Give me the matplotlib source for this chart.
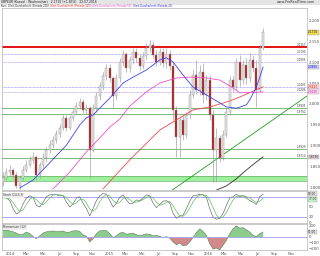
import numpy as np
import pandas as pd
import matplotlib
matplotlib.use('Agg')
import matplotlib.pyplot as plt
import matplotlib.transforms as mtransforms
from matplotlib.patches import Rectangle

# ---- bar data ----
opens = [1.814, 1.824, 1.838, 1.843, 1.831, 1.805, 1.824, 1.843, 1.855, 1.867,
         1.874, 1.831, 1.855, 1.871, 1.890, 1.902, 1.914, 1.929, 1.943, 1.967,
         1.943, 1.967, 1.981, 1.995, 2.005, 1.986, 1.990, 1.890, 1.990, 2.019,
         2.043, 2.067, 2.086, 2.062, 2.019, 2.062, 2.100, 2.119, 2.086, 2.105,
         2.124, 2.110, 2.090, 2.114, 2.133, 2.140, 2.117, 2.100, 2.124, 2.098,
         2.119, 2.090, 1.986, 1.921, 1.962, 1.926, 1.974, 2.021, 2.069, 2.033,
         2.076, 2.021, 2.057, 1.974, 1.890, 1.919, 1.871, 1.926, 1.981, 2.057,
         2.040, 2.100, 2.057, 2.093, 2.062, 2.105, 2.086, 2.033, 2.133]
closes = [1.824, 1.838, 1.843, 1.831, 1.805, 1.824, 1.843, 1.855, 1.867, 1.874,
          1.831, 1.855, 1.871, 1.890, 1.902, 1.914, 1.929, 1.943, 1.967, 1.943,
          1.967, 1.981, 1.995, 2.005, 1.986, 1.990, 1.890, 1.990, 2.019, 2.043,
          2.067, 2.086, 2.062, 2.019, 2.062, 2.100, 2.119, 2.086, 2.105, 2.124,
          2.110, 2.090, 2.114, 2.133, 2.140, 2.117, 2.100, 2.124, 2.098, 2.119,
          2.090, 1.986, 1.921, 1.962, 1.926, 1.974, 2.021, 2.069, 2.033, 2.076,
          2.021, 2.057, 1.974, 1.890, 1.919, 1.871, 1.926, 1.981, 2.057, 2.040,
          2.100, 2.057, 2.093, 2.062, 2.105, 2.086, 2.033, 2.133, 2.171]
highs = [1.838, 1.848, 1.855, 1.848, 1.838, 1.831, 1.852, 1.867, 1.876, 1.886,
         1.879, 1.862, 1.883, 1.898, 1.914, 1.924, 1.938, 1.952, 1.976, 1.974,
         1.974, 1.990, 2.005, 2.014, 2.012, 2.000, 1.995, 2.000, 2.029, 2.052,
         2.076, 2.095, 2.095, 2.067, 2.071, 2.110, 2.129, 2.124, 2.114, 2.133,
         2.133, 2.119, 2.124, 2.145, 2.152, 2.148, 2.129, 2.133, 2.133, 2.133,
         2.129, 2.100, 1.995, 1.971, 1.974, 1.981, 2.033, 2.081, 2.105, 2.093,
         2.098, 2.069, 2.069, 1.986, 1.943, 1.926, 1.938, 1.990, 2.067, 2.067,
         2.110, 2.117, 2.105, 2.110, 2.121, 2.117, 2.105, 2.143, 2.181]
lows = [1.805, 1.819, 1.829, 1.824, 1.800, 1.798, 1.819, 1.838, 1.850, 1.860,
        1.819, 1.824, 1.848, 1.862, 1.883, 1.895, 1.907, 1.921, 1.938, 1.936,
        1.938, 1.960, 1.974, 1.988, 1.979, 1.976, 1.824, 1.886, 1.981, 2.010,
        2.033, 2.057, 2.052, 1.990, 2.010, 2.052, 2.090, 2.076, 2.076, 2.095,
        2.100, 2.081, 2.083, 2.105, 2.124, 2.110, 2.090, 2.093, 2.088, 2.086,
        2.081, 1.962, 1.874, 1.874, 1.914, 1.919, 1.967, 2.014, 2.024, 2.021,
        2.002, 2.010, 1.962, 1.814, 1.814, 1.862, 1.867, 1.921, 1.974, 2.029,
        2.033, 2.043, 2.048, 2.048, 2.052, 2.076, 1.993, 2.029, 2.129]

# moving averages, sampled at bar indices
ma20_idx = [5, 9, 14, 19, 23, 25, 27, 29, 32, 36, 39, 43, 47, 49, 51, 54, 57, 62, 67, 70, 73, 74, 76, 78]
ma20_val = [1.800, 1.819, 1.860, 1.902, 1.950, 1.967, 1.974, 1.990, 2.014, 2.050, 2.064, 2.081,
            2.105, 2.110, 2.100, 2.069, 2.040, 2.017, 1.993, 1.990, 1.998, 2.010, 2.040, 2.088]
ma50_idx = [15, 20, 25, 29, 32, 35, 38, 43, 47, 52, 56, 61, 65, 68, 71, 74, 78]
ma50_val = [1.798, 1.838, 1.886, 1.919, 1.945, 1.964, 1.995, 2.029, 2.050, 2.062, 2.064,
            2.062, 2.057, 2.043, 2.027, 2.027, 2.029]
ma100_idx = [30, 38, 47, 52, 57, 62, 68, 72, 78]
ma100_val = [1.798, 1.867, 1.938, 1.962, 1.986, 1.993, 2.007, 2.020, 2.041]
ma200_idx = [64, 67, 70, 73, 76, 78]
ma200_val = [1.795, 1.805, 1.822, 1.843, 1.862, 1.874]

# support / resistance
red_level = 2.1357
blue_dotted = [2.1190, 2.0405]
purple_dotted = [2.0995, 2.0286]
green_levels = [1.9905, 1.9762, 1.8929, 1.8714]
green_band = (1.8167, 1.8286)
trend_dates = ['2015-08-22', '2016-12-31']
trend_vals = [1.795, 2.019]

# stochastic %K / %D
stoch_k = [80, 78, 70, 45, 28, 35, 60, 78, 85, 80, 55, 50, 65, 82, 88, 90, 88, 85, 86, 65,
           50, 60, 78, 82, 62, 45, 22, 45, 70, 85, 92, 90, 70, 50, 62, 80, 88, 72, 60, 62,
           72, 70, 78, 88, 85, 62, 48, 58, 68, 70, 62, 30, 15, 22, 25, 45, 68, 85, 86, 90,
           88, 80, 45, 18, 12, 15, 30, 55, 78, 82, 90, 82, 85, 78, 70, 65, 58, 82, 90]
stoch_d = [78, 79, 76, 64, 48, 36, 41, 58, 74, 81, 73, 62, 57, 66, 78, 87, 89, 88, 86, 79,
           67, 58, 63, 73, 74, 63, 43, 37, 46, 67, 82, 89, 84, 70, 61, 64, 77, 80, 73, 65,
           65, 68, 73, 79, 84, 78, 65, 56, 58, 65, 67, 54, 36, 22, 21, 31, 46, 66, 80, 87,
           88, 86, 71, 48, 25, 15, 19, 33, 54, 72, 83, 85, 86, 82, 78, 71, 64, 68, 77]

# momentum
momentum = [120, 125, 110, 95, 70, 40, 50, 90, 60, 10, -30, 20, 70, 95, 100, 110, 95, 100, 110, 80,
            90, 110, 115, 100, 40, 10, -90, -30, 60, 110, 120, 115, 60, -10, 20, 70, 85, 50, 60, 70,
            40, 20, 40, 55, 50, 20, 30, 10, -10, 5, -20, -90, -140, -110, -160, -150, -90, -10, 80, 150,
            100, 30, -120, -220, -200, -230, -150, -60, 60, 150, 200, 160, 170, 130, 90, 30, 5, 60, 91]

month_labels = ['2014', 'Mär', 'Mai', 'Jul', 'Sep', 'Nov',
                '2015', 'Mär', 'Mai', 'Jul', 'Sep', 'Nov',
                '2016', 'Mär', 'Mai', 'Jul', 'Sep', 'Nov']

dates = pd.date_range('2013-12-06', '2016-07-22', periods=len(closes))
W, H = 320, 256
LBL = '#505050'
GRID = '#b4b4b4'


def fy(y):
    return 1 - y / H


fig = plt.figure(figsize=(W / 100, H / 100), dpi=100)
fig.patch.set_facecolor('white')

# header strip
fig.patches.append(Rectangle((0, fy(4.5)), 1, 4.5 / H, transform=fig.transFigure,
                             facecolor='#e4e4e4', edgecolor='none'))
fig.text(1 / W, fy(2.3), 'GBPEUR (Kassa) · Wochenchart   2.1710 (+1.83%)   22.07.2016',
         fontsize=2.2, va='center', color='#202020')
fig.text(315 / W, fy(2.3), 'www.ProRealTime.com', fontsize=2.4, va='center', ha='right', color='#303030')
legend_parts = [(1, 'Kurs  Gleit. Durchschnitt (Periode 200)', '#202020'),
                (50, 'Gleit. Durchschnitt (Periode 100)', '#e02020'),
                (92, 'Gleit. Durchschnitt (Periode 50)', '#e040c0'),
                (133, 'Gleit. Durchschnitt (Periode 20)', '#2020e0')]
for px, txt, col in legend_parts:
    fig.text(px / W, fy(6.2), txt, fontsize=1.8, va='center', color=col)

ax = fig.add_axes([2 / W, fy(190), 305 / W, 182 / H])
ax_st = fig.add_axes([2 / W, fy(223), 305 / W, 32 / H], sharex=ax)
ax_mo = fig.add_axes([2 / W, fy(250), 305 / W, 26 / H], sharex=ax)

for a in (ax, ax_st, ax_mo):
    for s in a.spines.values():
        s.set_color(GRID)
        s.set_linewidth(0.5)
    a.yaxis.tick_right()
    a.tick_params(axis='y', labelsize=2.8, length=0, pad=1.5, colors=LBL)
    a.tick_params(axis='x', length=0)
    a.set_facecolor('white')

# ---- main price panel ----
ax.axhspan(green_band[0], green_band[1], color='#9ef09e', lw=0)
for v in green_band:
    ax.axhline(v, color='#68b068', lw=0.5)
for v in green_levels:
    ax.axhline(v, color='#68b068', lw=0.6)
for v in blue_dotted:
    ax.axhline(v, color='#7070ff', lw=0.5, ls=(0, (1, 1)))
for v in purple_dotted:
    ax.axhline(v, color='#b070e0', lw=0.5, ls=(0, (1, 1)))
ax.axhline(red_level, color='#e00000', lw=1.3)

ax.plot(pd.to_datetime(trend_dates), trend_vals, color='#20a020', lw=0.6)

o = np.array(opens)
c = np.array(closes)
up = c >= o
ax.vlines(dates, lows, highs, color='#9a9a9a', lw=0.45, zorder=3)
ax.bar(dates[up], (c - o)[up], bottom=o[up], width=7, color='#e6e6e6',
       edgecolor='#9a9a9a', linewidth=0.35, zorder=4)
ax.bar(dates[~up], (c - o)[~up], bottom=o[~up], width=7, color='#b01010',
       edgecolor='#9a9a9a', linewidth=0.35, zorder=4)

ax.plot(dates[ma200_idx], ma200_val, color='#402828', lw=0.6, zorder=5)
ax.plot(dates[ma100_idx], ma100_val, color='#f04848', lw=0.6, zorder=5)
ax.plot(dates[ma50_idx], ma50_val, color='#f050c8', lw=0.6, zorder=5)
ax.plot(dates[ma20_idx], ma20_val, color='#4040f0', lw=0.6, zorder=5)

ax.set_xlim(pd.Timestamp('2013-12-02'), pd.Timestamp('2016-12-31'))
ax.set_ylim(1.7952, 2.2286)
ax.set_yticks(np.arange(1.80, 2.201, 0.05))
ax.set_yticklabels([f'{v:.3f}' for v in np.arange(1.80, 2.201, 0.05)])
ax.tick_params(axis='x', labelbottom=False)

trans = mtransforms.blended_transform_factory(ax.transAxes, ax.transData)
for v in [red_level] + blue_dotted + purple_dotted + green_levels:
    ax.text(0.997, v, f'{v:.4f}', transform=trans, fontsize=2.0, ha='right', va='bottom',
            color='#404040', zorder=6)

boxes = [(closes[-1], '#f2dc50', '#202020'), (ma20_val[-1], '#d0d0ff', '#2020c0'),
         (ma100_val[-1], '#ffd6d6', '#d02020'), (ma50_val[-1], '#ffd8f4', '#c020a0'),
         (ma200_val[-1], '#e0d8d8', '#402828')]
for v, bg, fg in boxes:
    ax.text(1.004, v, f'{v:.4f}', transform=trans, fontsize=2.1, ha='left', va='center',
            color=fg, clip_on=False,
            bbox=dict(boxstyle='square,pad=0.12', facecolor=bg, edgecolor='#a0a0a0', lw=0.3))

# ---- stochastic panel ----
ax_st.axhline(80, color='#a8a8f0', lw=0.7)
ax_st.axhline(20, color='#a8a8f0', lw=0.7)
ax_st.plot(dates, stoch_k, color='#707070', lw=0.5)
ax_st.plot(dates, stoch_d, color='#60c060', lw=0.5)
ax_st.set_ylim(0, 100)
ax_st.set_yticks([0, 20, 50])
ax_st.tick_params(axis='x', labelbottom=False)
ax_st.text(0.004, 0.93, 'Stoch (14,3,3)', transform=ax_st.transAxes, fontsize=2.1,
           va='top', color='#303030',
           bbox=dict(boxstyle='square,pad=0.2', facecolor='#eeeeee', edgecolor='none'))
tr_st = mtransforms.blended_transform_factory(ax_st.transAxes, ax_st.transData)
for v, bg, dy in [(stoch_k[-1], '#e0e0e0', 2), (stoch_d[-1], '#c8f0c8', -3)]:
    ax_st.text(1.004, v + dy, f'{v:.2f}', transform=tr_st, fontsize=2.1, va='center', color='#303030',
               clip_on=False,
               bbox=dict(boxstyle='square,pad=0.12', facecolor=bg, edgecolor='#a0a0a0', lw=0.3))

# ---- momentum panel ----
mo = np.array(momentum)
ax_mo.fill_between(dates, 0, mo, where=mo >= 0, interpolate=True, color='#8ccc8c', lw=0)
ax_mo.fill_between(dates, 0, mo, where=mo < 0, interpolate=True, color='#d08a8a', lw=0)
ax_mo.plot(dates, mo, color='#5a7a5a', lw=0.4)
ax_mo.axhline(0, color='#a8a8f0', lw=0.7)
ax_mo.set_ylim(-236, 236)
ax_mo.set_yticks([-200, -100, 0, 200])
ax_mo.text(0.004, 0.95, 'Momentum (12)', transform=ax_mo.transAxes, fontsize=2.1,
           va='top', color='#303030',
           bbox=dict(boxstyle='square,pad=0.2', facecolor='#eeeeee', edgecolor='none'))
tr_mo = mtransforms.blended_transform_factory(ax_mo.transAxes, ax_mo.transData)
ax_mo.text(1.004, momentum[-1], f'{momentum[-1]:.2f}', transform=tr_mo, fontsize=2.1,
           va='center', color='#303030', clip_on=False,
           bbox=dict(boxstyle='square,pad=0.12', facecolor='#e0e0e0', edgecolor='#a0a0a0', lw=0.3))

tick_dates = pd.date_range('2014-01-01', '2016-11-01', freq='2MS')
ax_mo.set_xticks(tick_dates)
ax_mo.set_xticklabels(month_labels)
ax_mo.tick_params(axis='x', labelsize=2.6, pad=1.2, colors=LBL)

fig.savefig('out.png', dpi=100)
